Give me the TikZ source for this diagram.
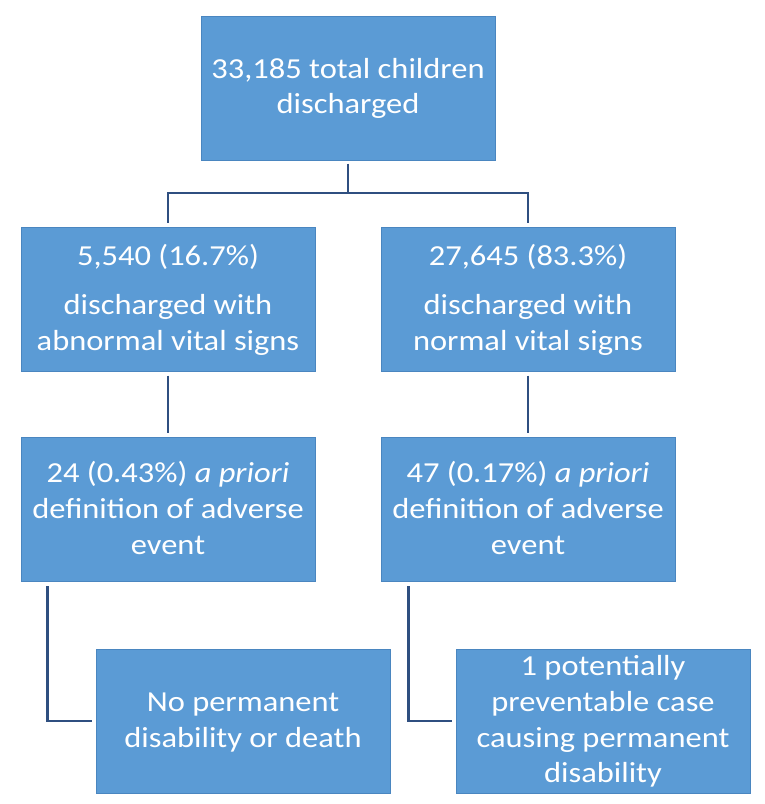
\documentclass[tikz,border=0pt]{standalone}
\usepackage{fontspec}
\usepackage{graphicx}
\setmainfont{Carlito}
\newcommand\hsq[1]{\scalebox{1.12}[1]{#1}}
\definecolor{boxfill}{HTML}{5B9BD5}
\definecolor{boxedge}{HTML}{4A86C0}
\definecolor{linec}{HTML}{2F4F80}
\begin{document}
\begin{tikzpicture}[x=1pt,y=-1pt,
  box/.style={draw=boxedge,line width=1pt,fill=boxfill,minimum width=294pt,minimum height=144pt,inner sep=0pt},
  conn/.style={draw=linec,line width=2.4pt},
  txt/.style={anchor=base,text=white,inner sep=0pt,font=\fontsize{29}{35}\selectfont}]
\useasboundingbox (0,0) rectangle (765,804);
% boxes
\node[box] (top) at (348,88) {};
\node[box] (L2) at (168,299) {};
\node[box] (R2) at (528,299) {};
\node[box] (L3) at (168,509.5) {};
\node[box] (R3) at (528,509.5) {};
\node[box] (L4) at (243,721) {};
\node[box] (R4) at (603,721) {};
% connectors
\coordinate (split) at (348,193);
\draw[conn] ([yshift=-3pt]top.south) -- (split);
\draw[conn] ([yshift=4pt]L2.north) -- (L2.north |- split) -- (R2.north |- split) -- ([yshift=4pt]R2.north);
\draw[conn] ([yshift=-4pt]L2.south) -- ([yshift=4pt]L3.north);
\draw[conn] ([yshift=-4pt]R2.south) -- ([yshift=4pt]R3.north);
\coordinate (le) at ([xshift=27pt,yshift=-4pt]L3.south west);
\coordinate (re) at ([xshift=28pt,yshift=-4pt]R3.south west);
\draw[conn] (le) |- ([xshift=-4pt]L4.west);
\draw[conn] (re) |- ([xshift=-4pt]R4.west);
% texts
\node[txt] (t1) at (348,78) {\hsq{33,185 total children}};
\node[txt] (t2) at (348,113) {\hsq{discharged}};
\node[txt] (l2a) at (168,265) {\hsq{5,540 (16.7\%)}};
\node[txt] (l2b) at (168,314) {\hsq{discharged with}};
\node[txt] (l2c) at (168,350) {\hsq{abnormal vital signs}};
\node[txt] (r2a) at (528,265) {\hsq{27,645 (83.3\%)}};
\node[txt] (r2b) at (528,314) {\hsq{discharged with}};
\node[txt] (r2c) at (528,350) {\hsq{normal vital signs}};
\node[txt] (l3a) at (168,482) {\hsq{24 (0.43\%) \textit{a priori}}};
\node[txt] (l3b) at (168,518) {\hsq{definition of adverse}};
\node[txt] (l3c) at (168,554) {\hsq{event}};
\node[txt] (r3a) at (528,482) {\hsq{47 (0.17\%) \textit{a priori}}};
\node[txt] (r3b) at (528,518) {\hsq{definition of adverse}};
\node[txt] (r3c) at (528,554) {\hsq{event}};
\node[txt] (l4a) at (243,711) {\hsq{No permanent}};
\node[txt] (l4b) at (243,747) {\hsq{disability or death}};
\node[txt] (r4a) at (603,675) {\hsq{1 potentially}};
\node[txt] (r4b) at (603,711) {\hsq{preventable case}};
\node[txt] (r4c) at (603,747) {\hsq{causing permanent}};
\node[txt] (r4d) at (603,782) {\hsq{disability}};
\end{tikzpicture}
\end{document}
